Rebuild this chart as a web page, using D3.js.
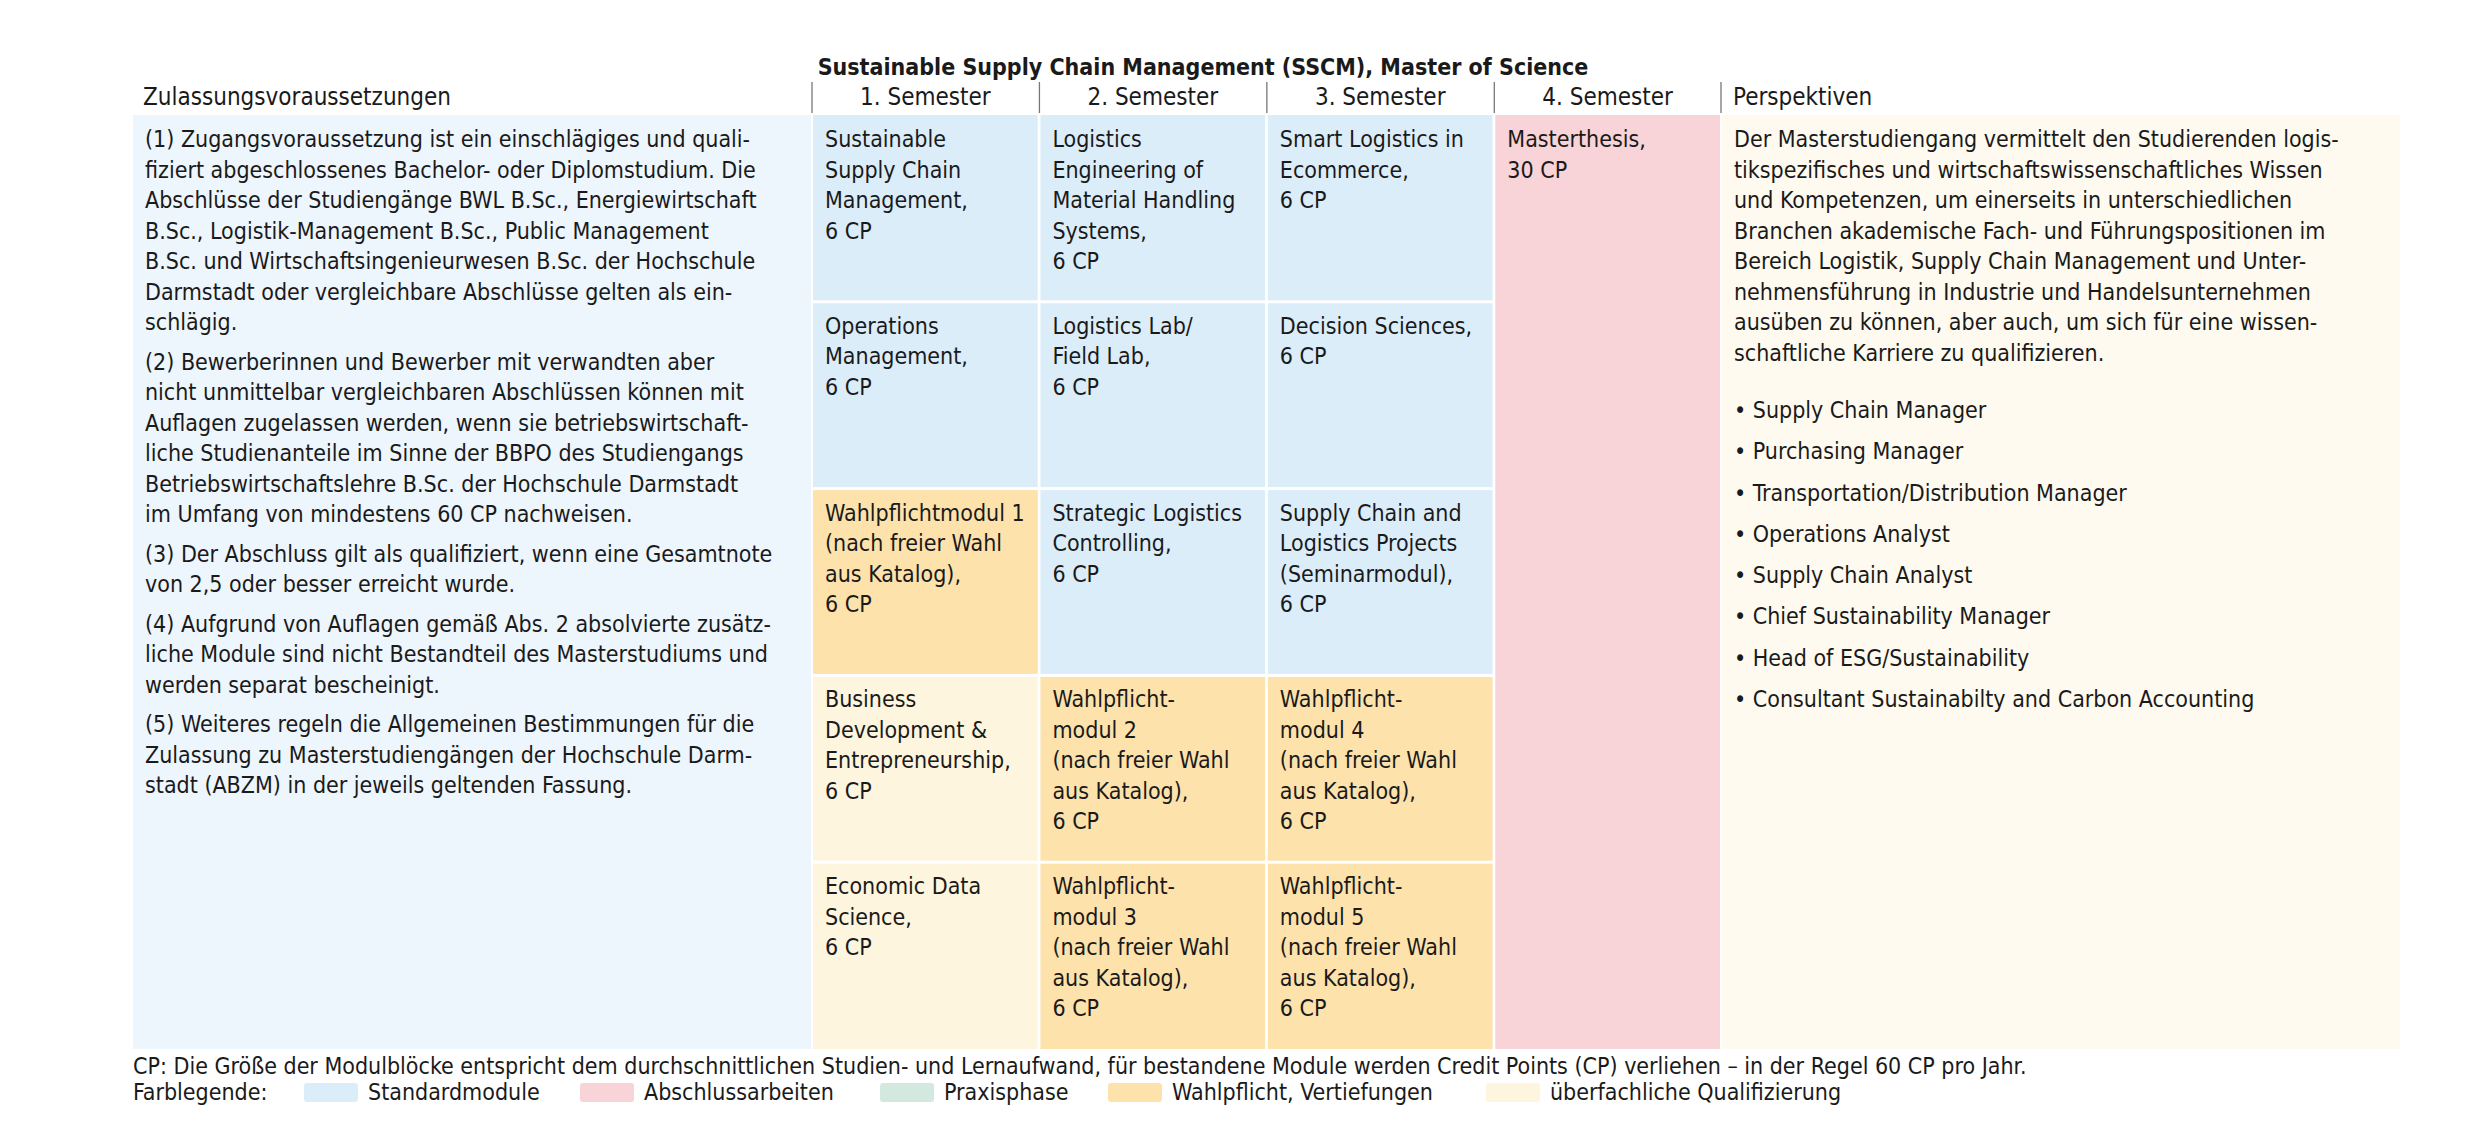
<!DOCTYPE html>
<html><head><meta charset="utf-8">
<script src="https://cdn.jsdelivr.net/npm/d3@7"></script>
<style>body{margin:0;background:#fff}svg text{font-family:"DejaVu Sans Condensed","Liberation Sans Narrow",sans-serif;fill:#1a1a1a}</style>
</head><body><svg id="c" width="2480" height="1146"></svg>
<script>
const title = "Sustainable Supply Chain Management (SSCM), Master of Science";
const semesters = ["1. Semester","2. Semester","3. Semester","4. Semester"];
const headLeft = "Zulassungsvoraussetzungen";
const headRight = "Perspektiven";
// modules: semester index, start CP, CP, type, lines
const modSem = [0,0,0,0,0, 1,1,1,1,1, 2,2,2,2,2, 3];
const modStart = [0,6,12,18,24, 0,6,12,18,24, 0,6,12,18,24, 0];
const modCP = [6,6,6,6,6, 6,6,6,6,6, 6,6,6,6,6, 30];
const modType = ["std","std","wp","ub","ub", "std","std","std","wp","wp", "std","std","std","wp","wp", "ab"];
const modLines = [
 ["Sustainable","Supply Chain","Management,","6 CP"],
 ["Operations","Management,","6 CP"],
 ["Wahlpflichtmodul 1","(nach freier Wahl","aus Katalog),","6 CP"],
 ["Business","Development &","Entrepreneurship,","6 CP"],
 ["Economic Data","Science,","6 CP"],
 ["Logistics","Engineering of","Material Handling","Systems,","6 CP"],
 ["Logistics Lab/","Field Lab,","6 CP"],
 ["Strategic Logistics","Controlling,","6 CP"],
 ["Wahlpflicht-","modul 2","(nach freier Wahl","aus Katalog),","6 CP"],
 ["Wahlpflicht-","modul 3","(nach freier Wahl","aus Katalog),","6 CP"],
 ["Smart Logistics in","Ecommerce,","6 CP"],
 ["Decision Sciences,","6 CP"],
 ["Supply Chain and","Logistics Projects","(Seminarmodul),","6 CP"],
 ["Wahlpflicht-","modul 4","(nach freier Wahl","aus Katalog),","6 CP"],
 ["Wahlpflicht-","modul 5","(nach freier Wahl","aus Katalog),","6 CP"],
 ["Masterthesis,","30 CP"]
];
const typeKeys = ["std","ab","pr","wp","ub"];
const typeNames = ["Standardmodule","Abschlussarbeiten","Praxisphase","Wahlpflicht, Vertiefungen","überfachliche Qualifizierung"];
const typeColors = ["#dcedfa","#f8d3d7","#d3e8df","#fde2ac","#fdf5de"];
const leftParas = [
 ["(1) Zugangsvoraussetzung ist ein einschlägiges und quali-","fiziert abgeschlossenes Bachelor- oder Diplomstudium. Die","Abschlüsse der Studiengänge BWL B.Sc., Energiewirtschaft","B.Sc., Logistik-Management B.Sc., Public Management","B.Sc. und Wirtschaftsingenieurwesen B.Sc. der Hochschule","Darmstadt oder vergleichbare Abschlüsse gelten als ein-","schlägig."],
 ["(2) Bewerberinnen und Bewerber mit verwandten aber","nicht unmittelbar vergleichbaren Abschlüssen können mit","Auflagen zugelassen werden, wenn sie betriebswirtschaft-","liche Studienanteile im Sinne der BBPO des Studiengangs","Betriebswirtschaftslehre B.Sc. der Hochschule Darmstadt","im Umfang von mindestens 60 CP nachweisen."],
 ["(3) Der Abschluss gilt als qualifiziert, wenn eine Gesamtnote","von 2,5 oder besser erreicht wurde."],
 ["(4) Aufgrund von Auflagen gemäß Abs. 2 absolvierte zusätz-","liche Module sind nicht Bestandteil des Masterstudiums und","werden separat bescheinigt."],
 ["(5) Weiteres regeln die Allgemeinen Bestimmungen für die","Zulassung zu Masterstudiengängen der Hochschule Darm-","stadt (ABZM) in der jeweils geltenden Fassung."]
];
const rightPara = ["Der Masterstudiengang vermittelt den Studierenden logis-","tikspezifisches und wirtschaftswissenschaftliches Wissen","und Kompetenzen, um einerseits in unterschiedlichen","Branchen akademische Fach- und Führungspositionen im","Bereich Logistik, Supply Chain Management und Unter-","nehmensführung in Industrie und Handelsunternehmen","ausüben zu können, aber auch, um sich für eine wissen-","schaftliche Karriere zu qualifizieren."];
const careers = ["Supply Chain Manager","Purchasing Manager","Transportation/Distribution Manager","Operations Analyst","Supply Chain Analyst","Chief Sustainability Manager","Head of ESG/Sustainability","Consultant Sustainabilty and Carbon Accounting"];
const footnote = "CP: Die Größe der Modulblöcke entspricht dem durchschnittlichen Studien- und Lernaufwand, für bestandene Module werden Credit Points (CP) verliehen – in der Regel 60 CP pro Jahr.";
const legendTitle = "Farblegende:";

const svg = d3.select("#c");
const FS = 23, LH = 30.5;
const x = d3.scaleBand().domain(semesters).range([813,1720]).paddingInner(0.012);
const y = d3.scaleLinear().domain([0,30]).range([115,1049]);
const color = d3.scaleOrdinal().domain(typeKeys).range(typeColors);

// title
svg.append("text").attr("x",1203).attr("y",75).attr("text-anchor","middle")
  .attr("font-size",23).attr("font-weight","bold").text(title);
// header
const hy = 105;
svg.append("text").attr("x",143).attr("y",hy).attr("font-size",24).text(headLeft);
semesters.forEach(s=>{
  svg.append("text").attr("x",x(s)+x.bandwidth()/2).attr("y",hy).attr("text-anchor","middle").attr("font-size",24).text(s);
});
svg.append("text").attr("x",1733).attr("y",hy).attr("font-size",24).text(headRight);
[...semesters.map(s=>x(s)), 1722].forEach(px=>{
  svg.append("line").attr("x1",px-1).attr("x2",px-1).attr("y1",82).attr("y2",113).attr("stroke","#777").attr("stroke-width",1.3);
});

// left and right panels
svg.append("rect").attr("x",133).attr("y",y(0)).attr("width",678).attr("height",y(30)-y(0)).attr("fill","#edf5fd");
svg.append("rect").attr("x",1722).attr("y",y(0)).attr("width",678).attr("height",y(30)-y(0)).attr("fill","#fefaf0");

// modules
const mods = modSem.map((s,i)=>({s:semesters[s],start:modStart[i],cp:modCP[i],type:modType[i],lines:modLines[i]}));
const g = svg.selectAll("g.mod").data(mods).join("g").attr("class","mod");
g.append("rect").attr("x",d=>x(d.s)).attr("y",d=>y(d.start)+(d.start?1.5:0))
  .attr("width",x.bandwidth()).attr("height",d=>y(d.start+d.cp)-y(d.start)-(d.start?1.5:0)-(d.start+d.cp<30?1.5:0))
  .attr("fill",d=>color(d.type));
g.each(function(d){
  const t = d3.select(this);
  d.lines.forEach((l,j)=>t.append("text").attr("x",x(d.s)+12).attr("y",y(d.start)+32+j*LH).attr("font-size",FS).text(l));
});

// left text
let ly = 147;
leftParas.forEach(p=>{
  p.forEach(l=>{svg.append("text").attr("x",145).attr("y",ly).attr("font-size",FS).text(l); ly+=LH;});
  ly += 9;
});
// right text
let ry = 147;
rightPara.forEach(l=>{svg.append("text").attr("x",1734).attr("y",ry).attr("font-size",FS).text(l); ry+=LH;});
const cy = d3.scaleLinear().domain([0,careers.length-1]).range([418,707]);
careers.forEach((c,i)=>svg.append("text").attr("x",1734).attr("y",cy(i)).attr("font-size",FS).text("• "+c));

// footer
svg.append("text").attr("x",133).attr("y",1074).attr("font-size",FS).text(footnote);
svg.append("text").attr("x",133).attr("y",1100).attr("font-size",FS).text(legendTitle);
const lx = [304,580,880,1108,1486];
typeKeys.forEach((k,i)=>{
  svg.append("rect").attr("x",lx[i]).attr("y",1083).attr("width",54).attr("height",19).attr("rx",3).attr("fill",color(k));
  svg.append("text").attr("x",lx[i]+64).attr("y",1100).attr("font-size",FS).text(typeNames[i]);
});
</script></body></html>
